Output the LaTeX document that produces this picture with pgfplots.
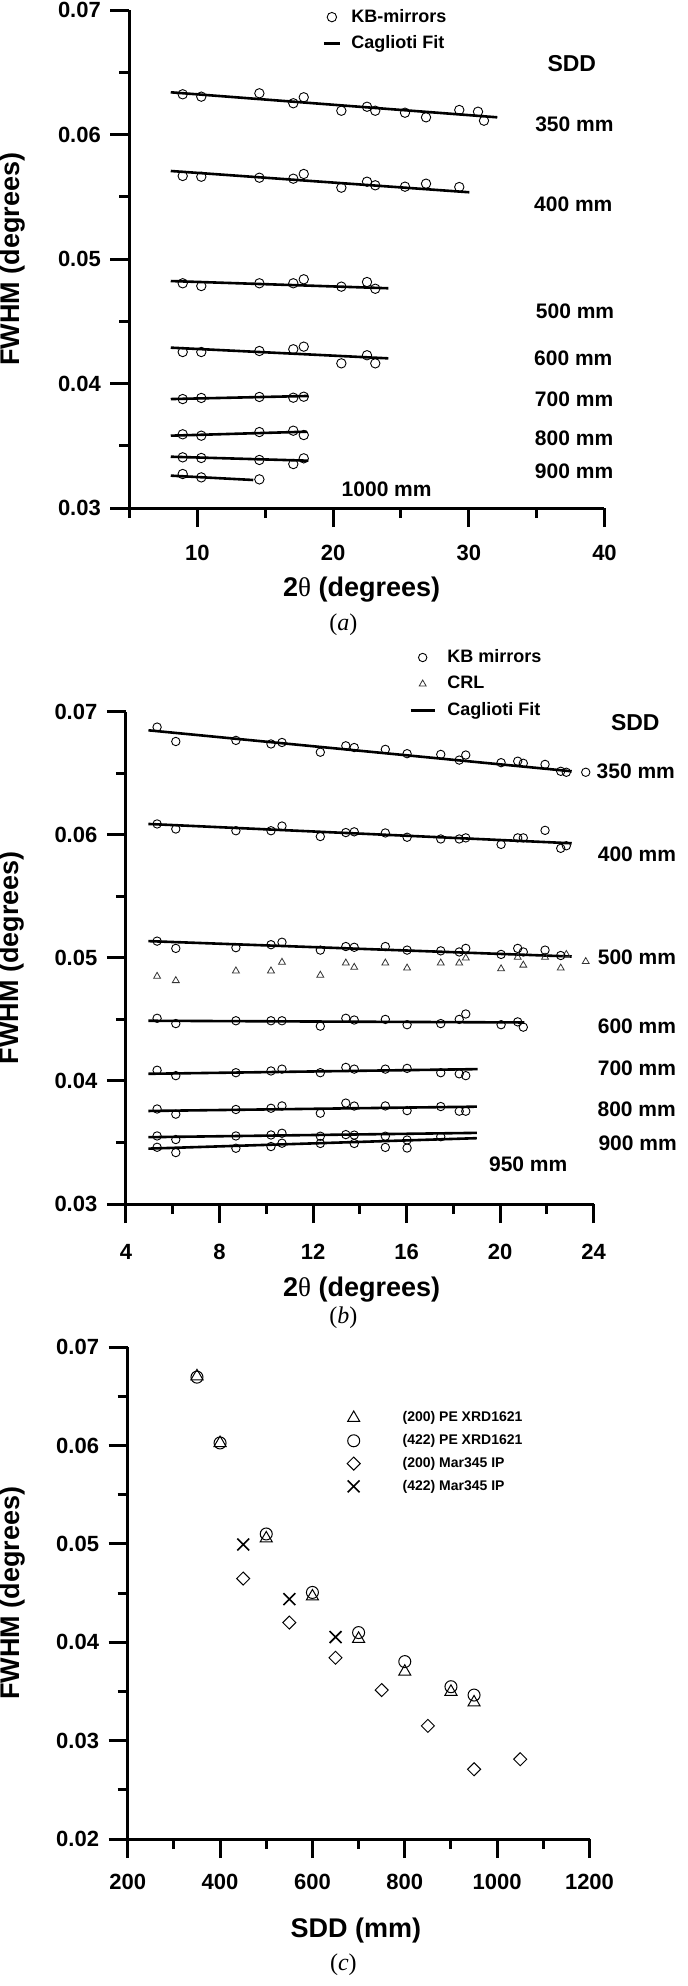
\documentclass[border=0pt]{standalone}
\usepackage{fontspec}
\setmainfont{Liberation Sans}
\newfontfamily\tnr{Liberation Serif}
\usepackage{pgfplots}
\pgfplotsset{compat=1.18}
\tikzset{
  lab/.style={font=\fontsize{10.5}{12}\selectfont\bfseries},
  sdd/.style={font=\fontsize{11.5}{13}\selectfont\bfseries},
  figcap/.style={font=\tnr\fontsize{12}{13}\selectfont, inner sep=0pt},
}
\pgfplotsset{
  panel/.style={
    scale only axis,
    axis lines*=left,
    axis line style={line width=1.5pt,-},
    tick align=outside,
    major tick length=9.5pt,
    minor tick length=5pt,
    tick style={line width=1.5pt,black},
    scaled y ticks=false,
    scaled x ticks=false,
    /pgf/number format/assume math mode=true,
    /pgf/number format/1000 sep={},
    ticklabel style={font=\fontsize{11}{13}\selectfont\bfseries},
    yticklabel style={/pgf/number format/fixed,/pgf/number format/fixed zerofill,/pgf/number format/precision=2},
    label style={font=\fontsize{13.5}{16}\selectfont\bfseries, inner sep=1pt},
    yticklabel shift=1.3pt,
    clip=false,
    ylabel={FWHM (degrees)},
    legend cell align=left,
  },
  mk/.style={legend image code/.code={\draw[##1] plot coordinates {(0pt,0pt)};}},
  circA/.style={only marks, black, mark=o, mark size=2.35pt, mark options={line width=0.45pt}, mk},
  circB/.style={only marks, black, mark=o, mark size=2.1pt, mark options={line width=0.45pt}, mk},
  triB/.style={only marks, black!80, mark=triangle, mark size=2pt, mark options={line width=0.4pt}, mk},
  fit/.style={no marks, black, line width=1.3pt},
  fitlegA/.style={legend image code/.code={\draw[black, line width=1.4pt] (-4pt,0pt) -- (4pt,0pt);}},
  fitlegB/.style={legend image code/.code={\draw[black, line width=1.4pt] (-6pt,0pt) -- (6pt,0pt);}},
}
\begin{document}
\begin{tikzpicture}
\useasboundingbox (0,0) rectangle (343.5pt,-993pt);
% ---------------- (a)
\begin{axis}[panel,
  at={(64.75pt,-254pt)}, anchor=south west, width=237.5pt, height=249pt,
  xmin=5, xmax=40, ymin=0.03, ymax=0.07,
  xtick={10,20,30,40}, minor xtick={5,15,25,35},
  ytick={0.03,0.04,0.05,0.06,0.07}, minor ytick={0.035,0.045,0.055,0.065},
  xticklabel shift=5.5pt,
  xlabel={2{\tnr\mdseries θ} (degrees)},
  xlabel style={at={(axis description cs:0.4888,-0.1647)}, anchor=center},
  ylabel style={at={(axis description cs:-0.2453,0.5)}, anchor=center},
  legend style={draw=none, fill=none, inner sep=0pt, column sep=3pt,
    font=\fontsize{9}{11}\selectfont\bfseries,
    nodes={inner sep=2pt, text height=7pt, text depth=2pt},
    at={(axis cs:19.78,0.06946)}, anchor=north west, xshift=-4pt, yshift=6.5pt},
]
\addplot[circA] coordinates {(8.92,0.06323)(10.29,0.06304)(14.57,0.06331)(17.07,0.06251)(17.84,0.06299)(20.61,0.06191)(22.50,0.06223)(23.11,0.06191)(25.30,0.06175)(26.85,0.06138)(29.30,0.06197)(30.68,0.06183)(31.12,0.06111)};
\addlegendentry{KB-mirrors}
\addplot[fit, fitlegA] coordinates {(8.04,0.06339)(32.1,0.06138)};
\addlegendentry{Caglioti Fit}
\addplot[circA, forget plot] coordinates {(8.92,0.05667)(10.29,0.05661)(14.57,0.05653)(17.07,0.05645)(17.84,0.05683)(20.61,0.05573)(22.50,0.05621)(23.11,0.05592)(25.30,0.05581)(26.85,0.05605)(29.30,0.05578)};
\addplot[fit, forget plot] coordinates {(8.04,0.05707)(30.04,0.05536)};
\addplot[circA, forget plot] coordinates {(8.92,0.04805)(10.29,0.04783)(14.57,0.04805)(17.07,0.04805)(17.84,0.04837)(20.61,0.04778)(22.50,0.04815)(23.11,0.04761)};
\addplot[fit, forget plot] coordinates {(8.04,0.04823)(24.07,0.04765)};
\addplot[circA, forget plot] coordinates {(8.92,0.04253)(10.29,0.04253)(14.57,0.04261)(17.07,0.04275)(17.84,0.04296)(20.61,0.04162)(22.50,0.04227)(23.11,0.04162)};
\addplot[fit, forget plot] coordinates {(8.04,0.04288)(24.07,0.04202)};
\addplot[circA, forget plot] coordinates {(8.92,0.03875)(10.29,0.03884)(14.57,0.03892)(17.07,0.03886)(17.84,0.03894)};
\addplot[fit, forget plot] coordinates {(8.04,0.03875)(18.18,0.03900)};
\addplot[circA, forget plot] coordinates {(8.92,0.03592)(10.29,0.03581)(14.57,0.03610)(17.07,0.03621)(17.84,0.03586)};
\addplot[fit, forget plot] coordinates {(8.04,0.03581)(18.06,0.03613)};
\addplot[circA, forget plot] coordinates {(8.92,0.03407)(10.29,0.03402)(14.57,0.03386)(17.07,0.03353)(17.84,0.03399)};
\addplot[fit, forget plot] coordinates {(8.04,0.03412)(18.18,0.03380)};
\addplot[circA, forget plot] coordinates {(8.92,0.03273)(10.29,0.03246)(14.57,0.03230)};
\addplot[fit, forget plot] coordinates {(8.04,0.03260)(14.12,0.03225)};
\node[sdd] at (axis cs:37.59,0.06572) {SDD};
\node[lab] at (axis cs:37.78,0.06084) {350 mm};
\node[lab] at (axis cs:37.70,0.05439) {400 mm};
\node[lab] at (axis cs:37.83,0.04582) {500 mm};
\node[lab] at (axis cs:37.70,0.04202) {600 mm};
\node[lab] at (axis cs:37.76,0.03875) {700 mm};
\node[lab] at (axis cs:37.76,0.03560) {800 mm};
\node[lab] at (axis cs:37.76,0.03297) {900 mm};
\node[lab] at (axis cs:23.95,0.03153) {1000 mm};
\end{axis}
\node[figcap] at (171.7pt,-312.5pt) {(\textit{a})};
% ---------------- (b)
\begin{axis}[panel,
  at={(63pt,-602pt)}, anchor=south west, width=233.85pt, height=246.15pt,
  xmin=4, xmax=24, ymin=0.03, ymax=0.07,
  xtick={4,8,12,16,20,24}, minor xtick={6,10,14,18,22},
  ytick={0.03,0.04,0.05,0.06,0.07}, minor ytick={0.035,0.045,0.055,0.065},
  xticklabel shift=7pt,
  xlabel={2{\tnr\mdseries θ} (degrees)},
  xlabel style={at={(axis description cs:0.504,-0.1747)}, anchor=center},
  ylabel style={at={(axis description cs:-0.2437,0.5)}, anchor=center},
  legend style={draw=none, fill=none, inner sep=0pt, column sep=3.5pt,
    font=\fontsize{9}{11}\selectfont\bfseries,
    nodes={inner sep=2.12pt, text height=7pt, text depth=2pt},
    at={(axis cs:16.61,0.07444)}, anchor=north west, xshift=-6pt, yshift=6.6pt},
]
\addplot[circB] coordinates {(5.33,0.06875)(6.13,0.06758)(8.70,0.06767)(10.20,0.06738)(10.67,0.06750)(12.31,0.06671)(13.40,0.06723)(13.76,0.06709)(15.09,0.06694)(16.02,0.06659)(17.46,0.06653)(18.25,0.06607)(18.53,0.06648)(20.04,0.06586)(20.75,0.06598)(20.99,0.06581)(21.92,0.06572)(22.59,0.06516)(22.83,0.06508)(23.66,0.06508)};
\addlegendentry{KB mirrors}
\addplot[triB] coordinates {(5.33,0.04850)(6.13,0.04815)(8.70,0.04894)(10.20,0.04894)(10.67,0.04964)(12.31,0.04859)(13.40,0.04958)(13.76,0.04923)(15.09,0.04958)(16.02,0.04917)(17.46,0.04958)(18.25,0.04958)(18.53,0.04999)(20.04,0.04911)(20.75,0.05005)(20.99,0.04941)(21.92,0.05005)(22.59,0.04917)(22.83,0.05028)(23.66,0.04970)};
\addlegendentry{CRL}
\addplot[fit, fitlegB] coordinates {(4.96,0.06849)(23.06,0.06516)};
\addlegendentry{Caglioti Fit}
\addplot[circB, forget plot] coordinates {(5.33,0.06088)(6.13,0.06047)(8.70,0.06033)(10.20,0.06033)(10.67,0.06071)(12.31,0.05986)(13.40,0.06018)(13.76,0.06024)(15.09,0.06015)(16.02,0.05980)(17.46,0.05966)(18.25,0.05966)(18.53,0.05975)(20.04,0.05922)(20.75,0.05975)(20.99,0.05975)(21.92,0.06036)(22.59,0.05890)(22.83,0.05911)};
\addplot[fit, forget plot] coordinates {(4.96,0.06088)(23.06,0.05931)};
\addplot[circB, forget plot] coordinates {(5.33,0.05136)(6.13,0.05077)(8.70,0.05083)(10.20,0.05107)(10.67,0.05127)(12.31,0.05063)(13.40,0.05092)(13.76,0.05086)(15.09,0.05092)(16.02,0.05063)(17.46,0.05057)(18.25,0.05048)(18.53,0.05077)(20.04,0.05028)(20.75,0.05077)(20.99,0.05048)(21.92,0.05063)(22.59,0.05019)};
\addplot[fit, forget plot] coordinates {(4.96,0.05136)(23.06,0.05011)};
\addplot[circB, forget plot] coordinates {(5.33,0.04509)(6.13,0.04466)(8.70,0.04489)(10.20,0.04489)(10.67,0.04489)(12.31,0.04445)(13.40,0.04509)(13.76,0.04495)(15.09,0.04500)(16.02,0.04457)(17.46,0.04466)(18.25,0.04500)(18.53,0.04544)(20.04,0.04457)(20.75,0.04480)(20.99,0.04437)};
\addplot[fit, forget plot] coordinates {(4.96,0.04489)(21.04,0.04475)};
\addplot[circB, forget plot] coordinates {(5.33,0.04087)(6.13,0.04043)(8.70,0.04067)(10.20,0.04081)(10.67,0.04096)(12.31,0.04067)(13.40,0.04110)(13.76,0.04096)(15.09,0.04096)(16.02,0.04102)(17.46,0.04067)(18.25,0.04058)(18.53,0.04043)};
\addplot[fit, forget plot] coordinates {(4.96,0.04058)(19.04,0.04096)};
\addplot[circB, forget plot] coordinates {(5.33,0.03772)(6.13,0.03730)(8.70,0.03768)(10.20,0.03778)(10.67,0.03797)(12.31,0.03738)(13.40,0.03820)(13.76,0.03796)(15.09,0.03797)(16.02,0.03759)(17.46,0.03792)(18.25,0.03754)(18.53,0.03754)};
\addplot[fit, forget plot] coordinates {(4.96,0.03756)(19.0,0.03791)};
\addplot[circB, forget plot] coordinates {(5.33,0.03553)(6.13,0.03524)(8.70,0.03553)(10.20,0.03561)(10.67,0.03575)(12.31,0.03551)(13.40,0.03564)(13.76,0.03560)(15.09,0.03551)(16.02,0.03520)(17.46,0.03547)};
\addplot[fit, forget plot] coordinates {(4.96,0.03543)(19.0,0.03578)};
\addplot[circB, forget plot] coordinates {(5.33,0.03461)(6.13,0.03418)(8.70,0.03453)(10.20,0.03467)(10.67,0.03494)(12.31,0.03492)(13.76,0.03492)(15.09,0.03460)(16.02,0.03455)};
\addplot[fit, forget plot] coordinates {(4.96,0.03450)(19.0,0.03535)};
\node[sdd] at (axis cs:25.78,0.06913) {SDD};
\node[lab] at (axis cs:25.80,0.06520) {350 mm};
\node[lab] at (axis cs:25.85,0.05844) {400 mm};
\node[lab] at (axis cs:25.85,0.05005) {500 mm};
\node[lab] at (axis cs:25.85,0.04445) {600 mm};
\node[lab] at (axis cs:25.85,0.04107) {700 mm};
\node[lab] at (axis cs:25.84,0.03772) {800 mm};
\node[lab] at (axis cs:25.88,0.03494) {900 mm};
\node[lab] at (axis cs:21.20,0.03326) {950 mm};
\end{axis}
\node[figcap] at (171.7pt,-659pt) {(\textit{b})};
% ---------------- (c)
\begin{axis}[panel,
  at={(63.85pt,-919.5pt)}, anchor=south west, width=230.9pt, height=246pt,
  xmin=200, xmax=1200, ymin=0.02, ymax=0.07,
  xtick={200,400,600,800,1000,1200}, minor xtick={300,500,700,900,1100},
  ytick={0.02,0.03,0.04,0.05,0.06,0.07}, minor ytick={0.025,0.035,0.045,0.055,0.065},
  xticklabel shift=4.5pt,
  xlabel={SDD (mm)},
  xlabel style={at={(axis description cs:0.494,-0.185)}, anchor=center},
  ylabel style={at={(axis description cs:-0.2484,0.5)}, anchor=center},
  legend style={draw=none, fill=none, inner sep=0pt, column sep=19pt,
    font=\fontsize{7}{8}\selectfont\bfseries,
    nodes={inner sep=2.2pt, text height=5.5pt, text depth=1.5pt},
    at={(axis cs:689.6,0.06283)}, anchor=north west, xshift=-3.5pt, yshift=5.7pt},
]
\addplot[only marks, black, mark=triangle, mark size=3.5pt, mark options={line width=0.5pt}, mk]
  coordinates {(350,0.06702)(400,0.06024)(500,0.05055)(600,0.04465)(700,0.04034)(800,0.03700)(900,0.03496)(950,0.03388)};
\addlegendentry{(200) PE XRD1621}
\addplot[only marks, black, mark=o, mark size=3pt, mark options={line width=0.5pt}, mk]
  coordinates {(350,0.06694)(400,0.06025)(500,0.05100)(600,0.04506)(700,0.04098)(800,0.03803)(900,0.03548)(950,0.03463)};
\addlegendentry{(422) PE XRD1621}
\addplot[only marks, black, mark=square, mark size=2.3pt, mark options={rotate=45, line width=0.5pt}, mk]
  coordinates {(450,0.04647)(550,0.04200)(650,0.03842)(750,0.03514)(850,0.03150)(950,0.02709)(1050,0.02811)};
\addlegendentry{(200) Mar345 IP}
\addplot[only marks, black, mark=x, mark size=4.2pt, mark options={line width=0.8pt}, mk]
  coordinates {(450,0.04993)(550,0.04438)(650,0.04052)};
\addlegendentry{(422) Mar345 IP}
\end{axis}
\node[figcap] at (171.7pt,-982.5pt) {(\textit{c})};
\end{tikzpicture}
\end{document}
